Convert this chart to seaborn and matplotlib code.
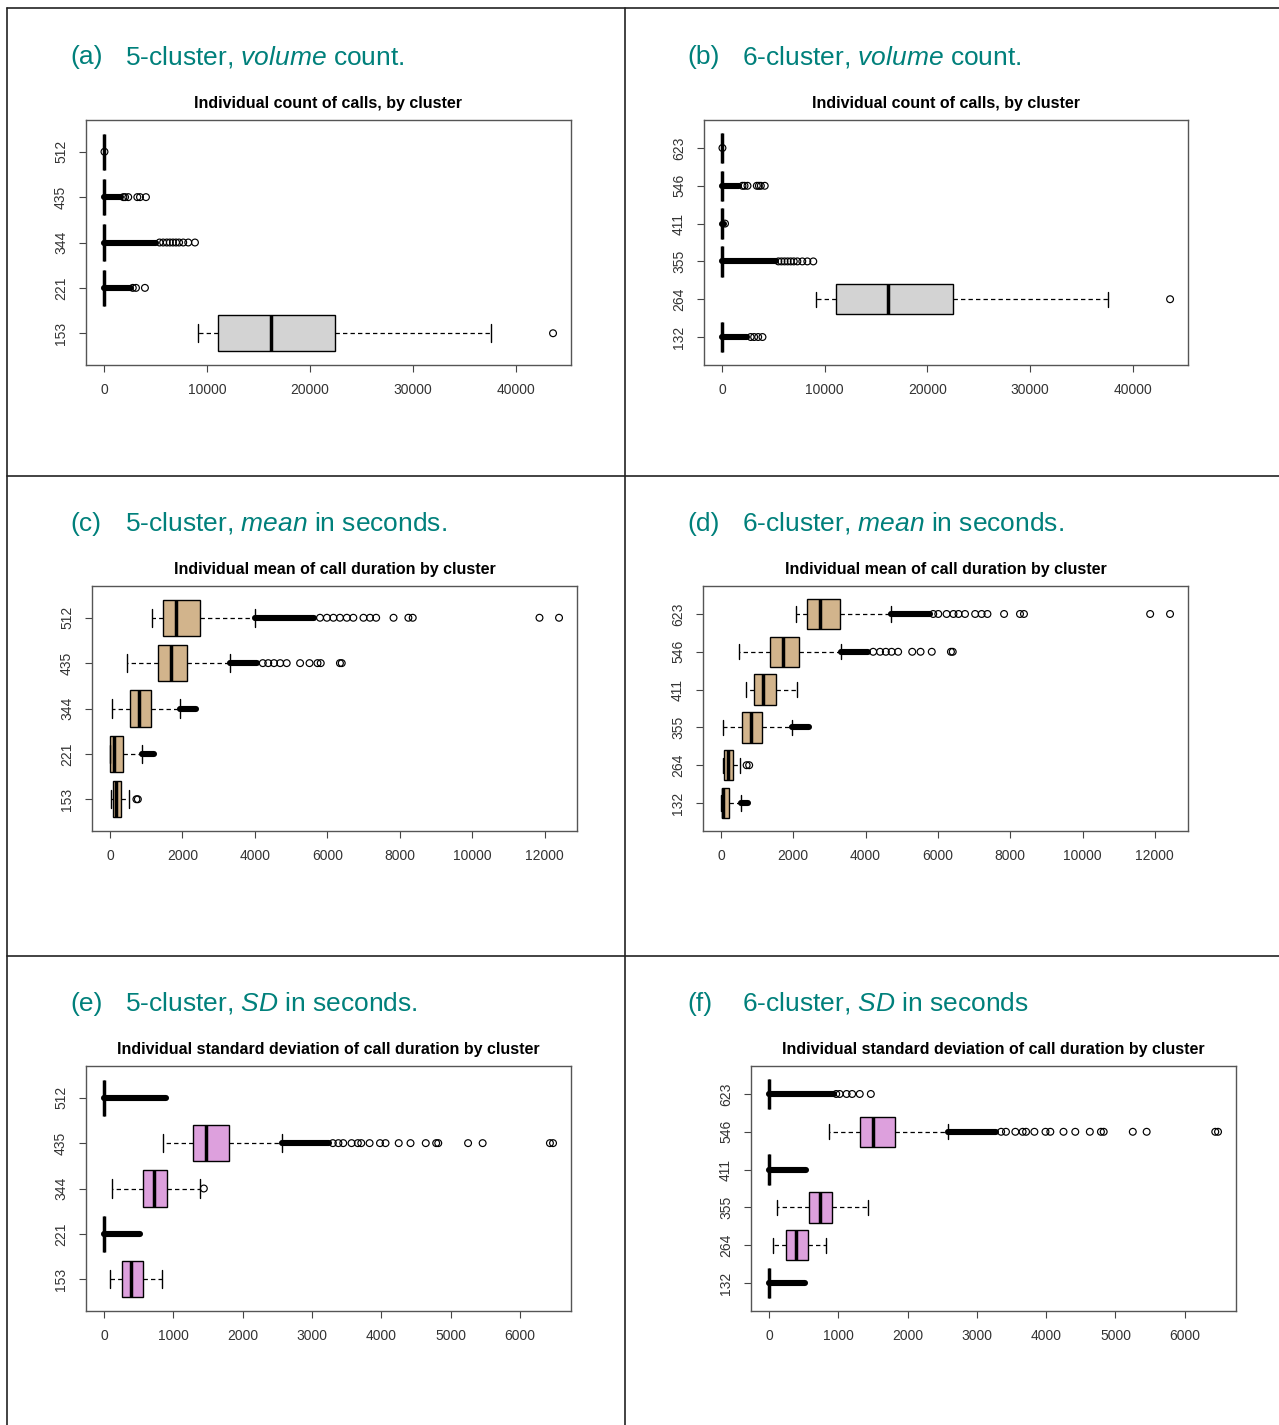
import numpy as np
import pandas as pd
import matplotlib
matplotlib.use("Agg")
import matplotlib.pyplot as plt
from matplotlib.lines import Line2D
import seaborn as sns

# ---------------------------------------------------------------------------
# Data: five-number summaries [lower whisker, Q1, median, Q3, upper whisker],
# end of the dense run of outliers beyond the upper whisker (0 = none),
# and individually visible outliers. Clusters listed top to bottom.
# ---------------------------------------------------------------------------
a_labels = ["512", "435", "344", "221", "153"]
a_boxes = [[0, 0, 0, 0, 0], [0, 0, 0, 0, 0], [0, 0, 0, 0, 0], [0, 0, 0, 0, 0],
           [9130, 11070, 16180, 22490, 37570]]
a_dense = [0, 1700, 5100, 2580, 0]
a_fliers = [[50], [1880, 2050, 2360, 3240, 3500, 4080],
            [5400, 5750, 6100, 6400, 6700, 7000, 7300, 7700, 8190, 8840],
            [2800, 3110, 3980], [43630]]

b_labels = ["623", "546", "411", "355", "264", "132"]
b_boxes = [[0, 0, 0, 0, 0], [0, 0, 0, 0, 0], [0, 0, 0, 0, 0], [0, 0, 0, 0, 0],
           [9190, 11070, 16180, 22560, 37600], [0, 0, 0, 0, 0]]
b_dense = [0, 1680, 200, 5240, 0, 2490]
b_fliers = [[50], [2000, 2200, 2490, 3400, 3600, 3790, 4170], [300],
            [5500, 5800, 6100, 6400, 6700, 7000, 7350, 7830, 8320, 8900],
            [43660], [2800, 3140, 3530, 3950]]

c_labels = ["512", "435", "344", "221", "153"]
c_boxes = [[1170, 1460, 1830, 2490, 4010], [470, 1330, 1690, 2140, 3310],
           [55, 560, 810, 1120, 1940], [0, 8, 100, 360, 880],
           [35, 75, 165, 310, 525]]
c_dense = [5630, 4050, 2370, 1220, 0]
c_fliers = [[5800, 5990, 6170, 6350, 6540, 6720, 7000, 7180, 7350, 7830, 8240,
             8360, 11860, 12400],
            [4220, 4370, 4530, 4700, 4880, 5250, 5510, 5730, 5820, 6350, 6400],
            [], [], [730, 770]]

d_labels = ["623", "546", "411", "355", "264", "132"]
d_boxes = [[2080, 2370, 2740, 3290, 4690], [490, 1355, 1705, 2150, 3320],
           [680, 920, 1170, 1520, 2090], [65, 570, 830, 1125, 1970],
           [45, 90, 195, 325, 535], [0, 18, 60, 230, 560]]
d_dense = [5780, 4070, 0, 2440, 0, 755]
d_fliers = [[5870, 6010, 6240, 6430, 6570, 6750, 7030, 7210, 7370, 7830, 8270,
             8380, 11870, 12420],
            [4210, 4400, 4560, 4720, 4900, 5290, 5520, 5830, 6360, 6410],
            [], [], [710, 780], []]

e_labels = ["512", "435", "344", "221", "153"]
e_boxes = [[0, 0, 0, 0, 0], [845, 1280, 1470, 1800, 2565],
           [110, 560, 715, 910, 1390], [0, 0, 0, 0, 0],
           [80, 255, 390, 570, 835]]
e_dense = [890, 3250, 0, 520, 0]
e_fliers = [[], [3300, 3380, 3450, 3570, 3660, 3710, 3830, 3980, 4060, 4250,
                 4420, 4640, 4790, 4820, 5250, 5460, 6430, 6475],
            [1440], [], []]

f_labels = ["623", "546", "411", "355", "264", "132"]
f_boxes = [[0, 0, 0, 0, 0], [865, 1310, 1500, 1820, 2580], [0, 0, 0, 0, 0],
           [110, 580, 730, 915, 1430], [63, 250, 385, 570, 830],
           [0, 0, 0, 0, 0]]
f_dense = [940, 3270, 535, 0, 0, 520]
f_fliers = [[970, 1020, 1120, 1200, 1310, 1470],
            [3350, 3420, 3555, 3660, 3710, 3830, 3990, 4060, 4250, 4420, 4630,
             4790, 4830, 5250, 5450, 6440, 6480],
            [], [], [], []]

count_ticks = [0, 10000, 20000, 30000, 40000]
mean_ticks = [0, 2000, 4000, 6000, 8000, 10000, 12000]
sd_ticks = [0, 1000, 2000, 3000, 4000, 5000, 6000]

# ---------------------------------------------------------------------------
sns.set_theme(style="white")
plt.rcParams["font.family"] = ["Liberation Sans", "DejaVu Sans"]
plt.rcParams["mathtext.fontset"] = "custom"
plt.rcParams["mathtext.rm"] = "Liberation Sans"
plt.rcParams["mathtext.it"] = "Liberation Sans:italic"

W, H = 1279, 1425
fig = plt.figure(figsize=(W / 100, H / 100), dpi=100)
TEAL = "#00807b"


def px_axes(left, top, right, bottom):
    return fig.add_axes([left / W, 1 - bottom / H, (right - left) / W,
                         (bottom - top) / H])


def draw_panel(ax, labels, boxes, dense, fliers, fill, ticks, title):
    rows = [{"cluster": lab, "value": v}
            for lab, five in zip(labels, boxes) for v in five]
    df = pd.DataFrame(rows)
    sns.boxplot(data=df, x="value", y="cluster", order=labels, orient="h",
                whis=(0, 100), showfliers=False, width=0.8, color=fill,
                saturation=1, linecolor="black", linewidth=1.0,
                medianprops={"linewidth": 2.5, "color": "black"},
                whiskerprops={"linestyle": (0, (3.5, 2.5)), "linewidth": 0.9},
                capprops={"linewidth": 1.0}, ax=ax)
    for i in range(len(labels)):
        if dense[i] > 0:
            ax.plot([boxes[i][4], dense[i]], [i, i], color="black", lw=4.4,
                    solid_capstyle="round", zorder=3)
        if fliers[i]:
            ax.scatter(fliers[i], [i] * len(fliers[i]), s=24,
                       facecolors="none", edgecolors="black",
                       linewidths=0.85, zorder=4)

    allv = [v for five in boxes for v in five] + list(dense) + \
           [v for f in fliers for v in f]
    lo, hi = min(allv), max(allv)
    pad = 0.04 * (hi - lo)
    ax.set_xlim(lo - pad, hi + pad)
    n = len(labels)
    ax.set_ylim(n - 0.5 + 0.04 * n, -0.5 - 0.04 * n)

    ax.set_xticks(ticks)
    ax.set_xticklabels([str(t) for t in ticks])
    ax.set_xlabel("")
    ax.set_ylabel("")
    ax.tick_params(axis="both", which="major", bottom=True, left=True,
                   direction="out", length=5, width=0.8, color="#444444",
                   labelcolor="#333333", labelsize=10, pad=8)
    for t in ax.get_yticklabels():
        t.set_rotation(90)
        t.set_va("center")
    for sp in ax.spines.values():
        sp.set_visible(True)
        sp.set_color("#555555")
        sp.set_linewidth(1.0)
    ax.set_title(title, fontsize=11.5, fontweight="bold", color="black",
                 pad=8.6)


TITLE_COUNT = "Individual count of calls, by cluster"
TITLE_MEAN = "Individual mean of call duration by cluster"
TITLE_SD = "Individual standard deviation of call duration by cluster"

panels = [
    ((86, 120, 571, 365), a_labels, a_boxes, a_dense, a_fliers, "#d3d3d3",
     count_ticks, TITLE_COUNT),
    ((704, 120, 1188, 365), b_labels, b_boxes, b_dense, b_fliers, "#d3d3d3",
     count_ticks, TITLE_COUNT),
    ((92, 586, 577, 831), c_labels, c_boxes, c_dense, c_fliers, "#d2b48c",
     mean_ticks, TITLE_MEAN),
    ((703, 586, 1188, 831), d_labels, d_boxes, d_dense, d_fliers, "#d2b48c",
     mean_ticks, TITLE_MEAN),
    ((86, 1066, 571, 1311), e_labels, e_boxes, e_dense, e_fliers, "#dda0dd",
     sd_ticks, TITLE_SD),
    ((751, 1066, 1236, 1311), f_labels, f_boxes, f_dense, f_fliers, "#dda0dd",
     sd_ticks, TITLE_SD),
]
for rect, labels, boxes, dense, fliers, fill, ticks, title in panels:
    ax = px_axes(*rect)
    draw_panel(ax, labels, boxes, dense, fliers, fill, ticks, title)

# Captions above each panel
captions = [
    (70, 125, 64, "(a)", r"5-cluster, $volume$ count."),
    (687, 742, 64, "(b)", r"6-cluster, $volume$ count."),
    (70, 125, 531, "(c)", r"5-cluster, $mean$ in seconds."),
    (687, 742, 531, "(d)", r"6-cluster, $mean$ in seconds."),
    (70, 125, 1011, "(e)", r"5-cluster, $SD$ in seconds."),
    (687, 742, 1011, "(f)", r"6-cluster, $SD$ in seconds"),
]
for x0, x1, yb, tag, text in captions:
    fig.text(x0 / W, 1 - yb / H, tag, fontsize=19, color=TEAL, va="baseline")
    fig.text(x1 / W, 1 - yb / H, text, fontsize=19, color=TEAL, va="baseline")

# Table-style frame around the six cells
def frame_line(x0, y0, x1, y1):
    fig.add_artist(Line2D([x0 / W, x1 / W], [1 - y0 / H, 1 - y1 / H],
                          transform=fig.transFigure, color="#222222", lw=1.2))

frame_line(7, 8, W, 8)
frame_line(7, 476, W, 476)
frame_line(7, 956, W, 956)
frame_line(7, 8, 7, H)
frame_line(625, 8, 625, H)

fig.savefig("out.png", dpi=100)
